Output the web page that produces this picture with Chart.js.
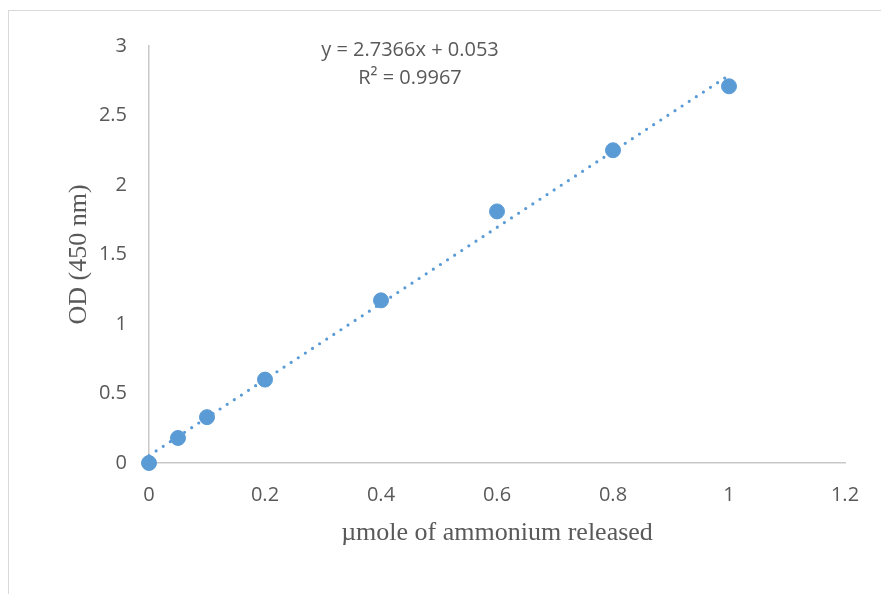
<!DOCTYPE html>
<html>
<head>
<meta charset="utf-8">
<script src="https://cdn.jsdelivr.net/npm/chart.js@4"></script>
<style>
  body { margin: 0; background: #fff; }
  #wrap { position: relative; width: 881px; height: 594px; overflow: hidden; }
  /* light chart frame, runs off the right and bottom edge like the source */
  #frame { position: absolute; left: 8px; top: 10px; width: 900px; height: 620px;
           border-left: 1.5px solid #d9d9d9; border-top: 1.5px solid #d9d9d9; }
  canvas { position: absolute; left: 0; top: 0; }
</style>
</head>
<body>
<div id="wrap">
  <div id="frame"></div>
  <canvas id="chart" width="881" height="594"></canvas>
</div>
<script>
// data
const ammonium = [0, 0.05, 0.1, 0.2, 0.4, 0.6, 0.8, 1];
const odValues = [0, 0.18, 0.33, 0.60, 1.17, 1.81, 2.25, 2.71];

// linear trendline as printed on the chart
const slope = 2.7366;
const intercept = 0.053;
const rSquared = 0.9967;
const trendX = [0, 1];

const xTicks = [0, 0.2, 0.4, 0.6, 0.8, 1, 1.2];
const yTicks = [0, 0.5, 1, 1.5, 2, 2.5, 3];

const blue = '#5B9BD5';
const tickFont = { family: 'Open Sans', size: 20 };
const titleFont = { family: 'Liberation Serif', size: 26 };

const points = ammonium.map((x, i) => ({ x: x, y: odValues[i] }));
const trend = trendX.map(x => ({ x: x, y: slope * x + intercept }));

// equation label, placed in data space near the top of the plot
const equationLabel = {
  id: 'equationLabel',
  afterDatasetsDraw(chart) {
    const { ctx, scales } = chart;
    const cx = scales.x.getPixelForValue(0.45);
    ctx.save();
    ctx.font = '20px "Open Sans"';
    ctx.fillStyle = '#595959';
    ctx.textAlign = 'center';
    ctx.textBaseline = 'middle';
    ctx.fillText('y = ' + slope + 'x + ' + intercept, cx, scales.y.getPixelForValue(2.97));
    ctx.fillText('R\u00B2 = ' + rSquared, cx, scales.y.getPixelForValue(2.77));
    ctx.restore();
  }
};

Chart.defaults.color = '#595959';

new Chart(document.getElementById('chart'), {
  type: 'scatter',
  data: {
    datasets: [
      {
        label: 'trend',
        data: trend,
        showLine: true,
        borderColor: blue,
        borderWidth: 3.2,
        borderDash: [0, 8.5],
        borderCapStyle: 'round',
        pointRadius: 0,
        fill: false,
        clip: false
      },
      {
        label: 'OD',
        data: points,
        backgroundColor: blue,
        borderColor: blue,
        pointRadius: 7.5,
        pointHoverRadius: 7.5,
        clip: false
      }
    ]
  },
  options: {
    responsive: false,
    animation: false,
    layout: { padding: { left: 0, top: 46, right: 36, bottom: 0 } },
    plugins: { legend: { display: false }, tooltip: { enabled: false } },
    scales: {
      x: {
        type: 'linear',
        min: 0,
        max: 1.2,
        afterBuildTicks: s => { s.ticks = xTicks.map(v => ({ value: v })); },
        afterFit: s => { s.height = 131; },
        grid: { display: false },
        border: { display: true, color: '#c8c8c8', width: 1.5 },
        ticks: { font: tickFont, padding: 12, callback: v => String(v) },
        title: { display: true, text: '\u00B5mole of ammonium released', font: titleFont,
                 padding: { top: 0, bottom: 45 } }
      },
      y: {
        type: 'linear',
        min: 0,
        max: 3,
        afterBuildTicks: s => { s.ticks = yTicks.map(v => ({ value: v })); },
        afterFit: s => { s.width = 149; },
        grid: { display: false },
        border: { display: true, color: '#c8c8c8', width: 1.5 },
        ticks: { font: tickFont, padding: 14, callback: v => String(v) },
        title: { display: true, text: 'OD (450 nm)', font: titleFont,
                 padding: { top: 64, bottom: 0 } }
      }
    }
  },
  plugins: [equationLabel]
});
</script>
</body>
</html>
